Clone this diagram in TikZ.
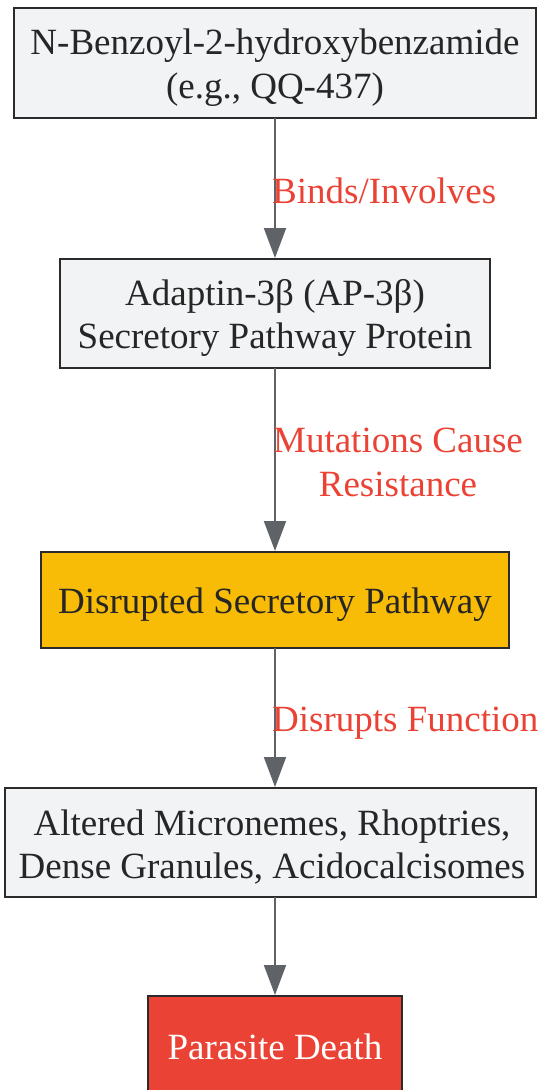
\documentclass[tikz,border=0pt]{standalone}
\usepackage{fontspec}
\setmainfont{Liberation Serif}
\usetikzlibrary{arrows.meta}
\definecolor{boxfill}{HTML}{F1F3F4}
\definecolor{boxline}{HTML}{2B2B2B}
\definecolor{orangefill}{HTML}{F9BC06}
\definecolor{redfill}{HTML}{EA4335}
\definecolor{arrowgray}{HTML}{5F6368}
\definecolor{labelred}{HTML}{EA4335}
\definecolor{textdark}{HTML}{262626}
\tikzset{
  x=1pt, y=-1pt,
  boxstyle/.style={draw=boxline, line width=2pt, inner sep=0pt},
  boxtext/.style={align=center, text=textdark, font=\fontsize{37}{43.5}\selectfont},
  conn/.style={draw=arrowgray, line width=2pt, -{Triangle[length=30pt,width=22pt]}},
  edgelabel/.style={text=labelred, font=\fontsize{37}{43.5}\selectfont, align=center, inner sep=0pt}
}
\begin{document}
\begin{tikzpicture}
\useasboundingbox (0,0) rectangle (541,1090);
\clip (0,0) rectangle (541,1090);
% boxes
\draw[boxstyle, fill=boxfill] (14,8) rectangle (536,118);
\node[boxtext] (n1) at (275,67.5) {N-Benzoyl-2-hydroxybenzamide\\(e.g., QQ-437)};
\coordinate (b1) at (275,118);

\draw[boxstyle, fill=boxfill] (60,259) rectangle (490,368);
\node[boxtext] (n2) at (275,318) {Adaptin-3β (AP-3β)\\Secretory Pathway Protein};
\coordinate (t2) at (275,258);
\coordinate (b2) at (275,368);

\draw[boxstyle, fill=orangefill] (41,552) rectangle (509,648);
\node[boxtext] (n3) at (275,604.5) {Disrupted Secretory Pathway};
\coordinate (t3) at (275,551);
\coordinate (b3) at (275,648);

\draw[boxstyle, fill=boxfill] (5,788) rectangle (536,897);
\node[boxtext] (n4) at (272,847) {Altered Micronemes, Rhoptries,\\Dense Granules, Acidocalcisomes};
\coordinate (t4) at (275,787);
\coordinate (b4) at (275,897);

\draw[boxstyle, fill=redfill] (148,996) rectangle (402,1110);
\node[boxtext, text=white] (n5) at (275,1047) {Parasite Death};
\coordinate (t5) at (275,995);

% connectors
\draw[conn] (b1) -- (t2);
\draw[conn] (b2) -- (t3);
\draw[conn] (b3) -- (t4);
\draw[conn] (b4) -- (t5);

% labels
\node[edgelabel, anchor=west] (l1) at (272,191) {Binds/Involves};
\node[edgelabel] (l2) at (398,462.5) {Mutations Cause\\Resistance};
\node[edgelabel, anchor=west] (l3) at (272,723) {Disrupts Function};
\end{tikzpicture}
\end{document}
